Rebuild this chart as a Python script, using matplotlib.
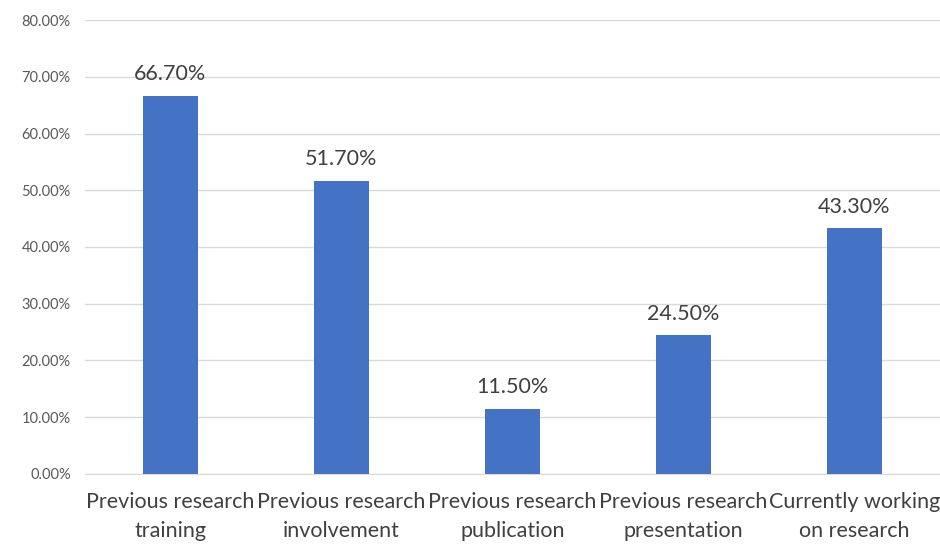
import matplotlib.pyplot as plt
import numpy as np

plt.rcParams['font.family'] = ['Lato', 'DejaVu Sans']

categories = ['Previous research\ntraining', 'Previous research\ninvolvement',
              'Previous research\npublication', 'Previous research\npresentation',
              'Currently working\non research']
values = [66.7, 51.7, 11.5, 24.5, 43.3]

fig = plt.figure(figsize=(9.4, 5.44), dpi=100)
ax = fig.add_axes([0.09, 0.129, 0.91, 0.834])

x = np.arange(len(categories))
bars = ax.bar(x, values, width=0.32, color='#4472C4', zorder=3)

for xi, v in zip(x, values):
    ax.text(xi, v + 2.0, f'{v:.2f}%', ha='center', va='bottom',
            fontsize=15.5, color='#404040')

ax.set_xlim(-0.5, len(categories) - 0.5)
ax.set_ylim(0, 80)
ax.set_yticks(np.arange(0, 81, 10))
ax.set_yticklabels([f'{t:.2f}%' for t in np.arange(0, 81, 10)])
ax.set_xticks(x)
ax.set_xticklabels(categories, fontsize=15.5, color='#404040', linespacing=1.55)
ax.tick_params(axis='y', labelsize=10.5, colors='#595959', length=0, pad=10)
ax.tick_params(axis='x', length=0, pad=13)
ax.grid(axis='y', color='#D9D9D9', linewidth=1, zorder=0)
for s in ['top', 'right', 'left']:
    ax.spines[s].set_visible(False)
ax.spines['bottom'].set_color('#D9D9D9')

fig.savefig('out.png', dpi=100)
